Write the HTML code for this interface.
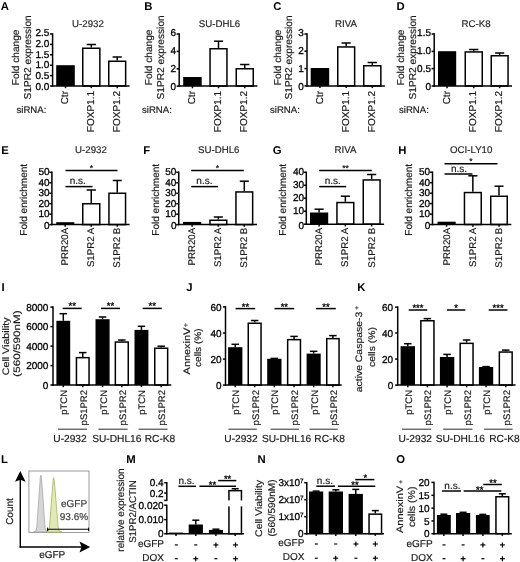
<!DOCTYPE html>
<html>
<head>
<meta charset="utf-8">
<title>Figure</title>
<style>
html, body { margin: 0; padding: 0; background: #fff; }
body { width: 520px; height: 562px; overflow: hidden; }
svg { display: block; font-family: "Liberation Sans", sans-serif; text-rendering: geometricPrecision; }
</style>
</head>
<body>
<svg width="520" height="562" viewBox="0 0 520 562">
<rect x="0" y="0" width="520" height="562" fill="#ffffff"/>
<g opacity="0.999">
<text x="0.8" y="9.5" font-size="11.3" text-anchor="start" font-weight="bold" fill="#000">A</text>
<text x="88" y="27.3" font-size="9.7" text-anchor="middle" font-weight="normal" fill="#262626" stroke="#262626" stroke-width="0.18">U-2932</text>
<rect x="56.2" y="65.2" width="18.6" height="20.8" fill="#000" stroke="none" stroke-width="0"/>
<line x1="91.3" y1="47.5" x2="91.3" y2="44.5" stroke="#000" stroke-width="1.5" stroke-linecap="butt"/>
<line x1="86.65" y1="44.5" x2="95.95" y2="44.5" stroke="#000" stroke-width="1.5" stroke-linecap="butt"/>
<rect x="82.75" y="48.25" width="17.1" height="37.75" fill="#fff" stroke="#000" stroke-width="1.5"/>
<line x1="117.2" y1="60.5" x2="117.2" y2="57" stroke="#000" stroke-width="1.5" stroke-linecap="butt"/>
<line x1="112.6" y1="57" x2="121.8" y2="57" stroke="#000" stroke-width="1.5" stroke-linecap="butt"/>
<rect x="108.75" y="61.25" width="16.9" height="24.75" fill="#fff" stroke="#000" stroke-width="1.5"/>
<line x1="52.6" y1="33.25" x2="52.6" y2="86.75" stroke="#000" stroke-width="1.5" stroke-linecap="butt"/>
<line x1="50" y1="34" x2="52.6" y2="34" stroke="#000" stroke-width="1.5" stroke-linecap="butt"/>
<text x="49.4" y="36.4" font-size="10" text-anchor="end" font-weight="normal" fill="#000" stroke="#000" stroke-width="0.3">2.5</text>
<line x1="50" y1="44.4" x2="52.6" y2="44.4" stroke="#000" stroke-width="1.5" stroke-linecap="butt"/>
<text x="49.4" y="47.04" font-size="10" text-anchor="end" font-weight="normal" fill="#000" stroke="#000" stroke-width="0.3">2.0</text>
<line x1="50" y1="54.8" x2="52.6" y2="54.8" stroke="#000" stroke-width="1.5" stroke-linecap="butt"/>
<text x="49.4" y="57.68" font-size="10" text-anchor="end" font-weight="normal" fill="#000" stroke="#000" stroke-width="0.3">1.5</text>
<line x1="50" y1="65.2" x2="52.6" y2="65.2" stroke="#000" stroke-width="1.5" stroke-linecap="butt"/>
<text x="49.4" y="68.32" font-size="10" text-anchor="end" font-weight="normal" fill="#000" stroke="#000" stroke-width="0.3">1.0</text>
<line x1="50" y1="75.6" x2="52.6" y2="75.6" stroke="#000" stroke-width="1.5" stroke-linecap="butt"/>
<text x="49.4" y="78.96" font-size="10" text-anchor="end" font-weight="normal" fill="#000" stroke="#000" stroke-width="0.3">0.5</text>
<line x1="50" y1="86" x2="52.6" y2="86" stroke="#000" stroke-width="1.5" stroke-linecap="butt"/>
<text x="49.4" y="89.6" font-size="10" text-anchor="end" font-weight="normal" fill="#000" stroke="#000" stroke-width="0.3">0.0</text>
<line x1="51.85" y1="86" x2="129.6" y2="86" stroke="#000" stroke-width="1.5" stroke-linecap="butt"/>
<line x1="65.5" y1="86" x2="65.5" y2="88.2" stroke="#000" stroke-width="1.5" stroke-linecap="butt"/>
<line x1="91.3" y1="86" x2="91.3" y2="88.2" stroke="#000" stroke-width="1.5" stroke-linecap="butt"/>
<line x1="117.2" y1="86" x2="117.2" y2="88.2" stroke="#000" stroke-width="1.5" stroke-linecap="butt"/>
<text x="68.2" y="91" font-size="10" text-anchor="end" font-weight="normal" fill="#1a1a1a" transform="rotate(-90 68.2 91)" stroke="#1a1a1a" stroke-width="0.18">Ctr</text>
<text x="94" y="91" font-size="10" text-anchor="end" font-weight="normal" fill="#1a1a1a" transform="rotate(-90 94 91)" stroke="#1a1a1a" stroke-width="0.18">FOXP1.1</text>
<text x="119.9" y="91" font-size="10" text-anchor="end" font-weight="normal" fill="#1a1a1a" transform="rotate(-90 119.9 91)" stroke="#1a1a1a" stroke-width="0.18">FOXP1.2</text>
<text x="18.6" y="57.4" font-size="10" text-anchor="middle" font-weight="normal" fill="#1a1a1a" transform="rotate(-90 18.6 57.4)" textLength="55.8" lengthAdjust="spacingAndGlyphs" stroke="#1a1a1a" stroke-width="0.18">Fold change</text>
<text x="30.9" y="57.4" font-size="10" text-anchor="middle" font-weight="normal" fill="#1a1a1a" transform="rotate(-90 30.9 57.4)" textLength="84.2" lengthAdjust="spacingAndGlyphs" stroke="#1a1a1a" stroke-width="0.18">S1PR2 expression</text>
<text x="16.5" y="112.8" font-size="9.6" text-anchor="start" font-weight="normal" fill="#1a1a1a" stroke="#1a1a1a" stroke-width="0.18">siRNA:</text>
<text x="144.3" y="9.5" font-size="11.3" text-anchor="start" font-weight="bold" fill="#000">B</text>
<text x="219.5" y="27.3" font-size="9.7" text-anchor="middle" font-weight="normal" fill="#262626" stroke="#262626" stroke-width="0.18">SU-DHL6</text>
<rect x="183.2" y="77" width="18.5" height="9.1" fill="#000" stroke="none" stroke-width="0"/>
<line x1="218.5" y1="48" x2="218.5" y2="41.2" stroke="#000" stroke-width="1.5" stroke-linecap="butt"/>
<line x1="213.9" y1="41.2" x2="223.1" y2="41.2" stroke="#000" stroke-width="1.5" stroke-linecap="butt"/>
<rect x="210.05" y="48.75" width="16.9" height="37.35" fill="#fff" stroke="#000" stroke-width="1.5"/>
<line x1="244.75" y1="68" x2="244.75" y2="64.5" stroke="#000" stroke-width="1.5" stroke-linecap="butt"/>
<line x1="240.12" y1="64.5" x2="249.38" y2="64.5" stroke="#000" stroke-width="1.5" stroke-linecap="butt"/>
<rect x="236.25" y="68.75" width="17" height="17.35" fill="#fff" stroke="#000" stroke-width="1.5"/>
<line x1="179.2" y1="33.25" x2="179.2" y2="86.85" stroke="#000" stroke-width="1.5" stroke-linecap="butt"/>
<line x1="176.6" y1="34" x2="179.2" y2="34" stroke="#000" stroke-width="1.5" stroke-linecap="butt"/>
<text x="176" y="36.4" font-size="10" text-anchor="end" font-weight="normal" fill="#000" stroke="#000" stroke-width="0.3">6</text>
<line x1="176.6" y1="51.4" x2="179.2" y2="51.4" stroke="#000" stroke-width="1.5" stroke-linecap="butt"/>
<text x="176" y="54.2" font-size="10" text-anchor="end" font-weight="normal" fill="#000" stroke="#000" stroke-width="0.3">4</text>
<line x1="176.6" y1="68.8" x2="179.2" y2="68.8" stroke="#000" stroke-width="1.5" stroke-linecap="butt"/>
<text x="176" y="72" font-size="10" text-anchor="end" font-weight="normal" fill="#000" stroke="#000" stroke-width="0.3">2</text>
<line x1="176.6" y1="86.1" x2="179.2" y2="86.1" stroke="#000" stroke-width="1.5" stroke-linecap="butt"/>
<text x="176" y="89.7" font-size="10" text-anchor="end" font-weight="normal" fill="#000" stroke="#000" stroke-width="0.3">0</text>
<line x1="178.45" y1="86.1" x2="257.4" y2="86.1" stroke="#000" stroke-width="1.5" stroke-linecap="butt"/>
<line x1="192.45" y1="86.1" x2="192.45" y2="88.3" stroke="#000" stroke-width="1.5" stroke-linecap="butt"/>
<line x1="218.5" y1="86.1" x2="218.5" y2="88.3" stroke="#000" stroke-width="1.5" stroke-linecap="butt"/>
<line x1="244.75" y1="86.1" x2="244.75" y2="88.3" stroke="#000" stroke-width="1.5" stroke-linecap="butt"/>
<text x="195.15" y="91" font-size="10" text-anchor="end" font-weight="normal" fill="#1a1a1a" transform="rotate(-90 195.15 91)" stroke="#1a1a1a" stroke-width="0.18">Ctr</text>
<text x="221.2" y="91" font-size="10" text-anchor="end" font-weight="normal" fill="#1a1a1a" transform="rotate(-90 221.2 91)" stroke="#1a1a1a" stroke-width="0.18">FOXP1.1</text>
<text x="247.45" y="91" font-size="10" text-anchor="end" font-weight="normal" fill="#1a1a1a" transform="rotate(-90 247.45 91)" stroke="#1a1a1a" stroke-width="0.18">FOXP1.2</text>
<text x="152.3" y="57.4" font-size="10" text-anchor="middle" font-weight="normal" fill="#1a1a1a" transform="rotate(-90 152.3 57.4)" textLength="55.8" lengthAdjust="spacingAndGlyphs" stroke="#1a1a1a" stroke-width="0.18">Fold change</text>
<text x="164" y="57.4" font-size="10" text-anchor="middle" font-weight="normal" fill="#1a1a1a" transform="rotate(-90 164 57.4)" textLength="84.2" lengthAdjust="spacingAndGlyphs" stroke="#1a1a1a" stroke-width="0.18">S1PR2 expression</text>
<text x="142" y="112.8" font-size="9.6" text-anchor="start" font-weight="normal" fill="#1a1a1a" stroke="#1a1a1a" stroke-width="0.18">siRNA:</text>
<text x="273.3" y="9.5" font-size="11.3" text-anchor="start" font-weight="bold" fill="#000">C</text>
<text x="346" y="27.3" font-size="9.7" text-anchor="middle" font-weight="normal" fill="#262626" stroke="#262626" stroke-width="0.18">RIVA</text>
<rect x="310.7" y="68" width="18.5" height="17.9" fill="#000" stroke="none" stroke-width="0"/>
<line x1="346.2" y1="46.2" x2="346.2" y2="43" stroke="#000" stroke-width="1.5" stroke-linecap="butt"/>
<line x1="341.6" y1="43" x2="350.8" y2="43" stroke="#000" stroke-width="1.5" stroke-linecap="butt"/>
<rect x="337.75" y="46.95" width="16.9" height="38.95" fill="#fff" stroke="#000" stroke-width="1.5"/>
<line x1="372.3" y1="65" x2="372.3" y2="62.5" stroke="#000" stroke-width="1.5" stroke-linecap="butt"/>
<line x1="367.65" y1="62.5" x2="376.95" y2="62.5" stroke="#000" stroke-width="1.5" stroke-linecap="butt"/>
<rect x="363.75" y="65.75" width="17.1" height="20.15" fill="#fff" stroke="#000" stroke-width="1.5"/>
<line x1="307" y1="33.25" x2="307" y2="86.65" stroke="#000" stroke-width="1.5" stroke-linecap="butt"/>
<line x1="304.4" y1="34" x2="307" y2="34" stroke="#000" stroke-width="1.5" stroke-linecap="butt"/>
<text x="303.8" y="36.4" font-size="10" text-anchor="end" font-weight="normal" fill="#000" stroke="#000" stroke-width="0.3">3</text>
<line x1="304.4" y1="51.2" x2="307" y2="51.2" stroke="#000" stroke-width="1.5" stroke-linecap="butt"/>
<text x="303.8" y="54" font-size="10" text-anchor="end" font-weight="normal" fill="#000" stroke="#000" stroke-width="0.3">2</text>
<line x1="304.4" y1="68.6" x2="307" y2="68.6" stroke="#000" stroke-width="1.5" stroke-linecap="butt"/>
<text x="303.8" y="71.8" font-size="10" text-anchor="end" font-weight="normal" fill="#000" stroke="#000" stroke-width="0.3">1</text>
<line x1="304.4" y1="85.9" x2="307" y2="85.9" stroke="#000" stroke-width="1.5" stroke-linecap="butt"/>
<text x="303.8" y="89.5" font-size="10" text-anchor="end" font-weight="normal" fill="#000" stroke="#000" stroke-width="0.3">0</text>
<line x1="306.25" y1="85.9" x2="384.9" y2="85.9" stroke="#000" stroke-width="1.5" stroke-linecap="butt"/>
<line x1="319.95" y1="85.9" x2="319.95" y2="88.1" stroke="#000" stroke-width="1.5" stroke-linecap="butt"/>
<line x1="346.2" y1="85.9" x2="346.2" y2="88.1" stroke="#000" stroke-width="1.5" stroke-linecap="butt"/>
<line x1="372.3" y1="85.9" x2="372.3" y2="88.1" stroke="#000" stroke-width="1.5" stroke-linecap="butt"/>
<text x="322.65" y="91" font-size="10" text-anchor="end" font-weight="normal" fill="#1a1a1a" transform="rotate(-90 322.65 91)" stroke="#1a1a1a" stroke-width="0.18">Ctr</text>
<text x="348.9" y="91" font-size="10" text-anchor="end" font-weight="normal" fill="#1a1a1a" transform="rotate(-90 348.9 91)" stroke="#1a1a1a" stroke-width="0.18">FOXP1.1</text>
<text x="375" y="91" font-size="10" text-anchor="end" font-weight="normal" fill="#1a1a1a" transform="rotate(-90 375 91)" stroke="#1a1a1a" stroke-width="0.18">FOXP1.2</text>
<text x="281.1" y="57.4" font-size="10" text-anchor="middle" font-weight="normal" fill="#1a1a1a" transform="rotate(-90 281.1 57.4)" textLength="55.8" lengthAdjust="spacingAndGlyphs" stroke="#1a1a1a" stroke-width="0.18">Fold change</text>
<text x="292.3" y="57.4" font-size="10" text-anchor="middle" font-weight="normal" fill="#1a1a1a" transform="rotate(-90 292.3 57.4)" textLength="84.2" lengthAdjust="spacingAndGlyphs" stroke="#1a1a1a" stroke-width="0.18">S1PR2 expression</text>
<text x="270" y="112.8" font-size="9.6" text-anchor="start" font-weight="normal" fill="#1a1a1a" stroke="#1a1a1a" stroke-width="0.18">siRNA:</text>
<text x="396.5" y="9.5" font-size="11.3" text-anchor="start" font-weight="bold" fill="#000">D</text>
<text x="476" y="27.3" font-size="9.7" text-anchor="middle" font-weight="normal" fill="#262626" stroke="#262626" stroke-width="0.18">RC-K8</text>
<rect x="438" y="51.2" width="18.2" height="34.8" fill="#000" stroke="none" stroke-width="0"/>
<line x1="473.75" y1="51.2" x2="473.75" y2="49.5" stroke="#000" stroke-width="1.5" stroke-linecap="butt"/>
<line x1="469.12" y1="49.5" x2="478.38" y2="49.5" stroke="#000" stroke-width="1.5" stroke-linecap="butt"/>
<rect x="465.25" y="51.95" width="17" height="34.05" fill="#fff" stroke="#000" stroke-width="1.5"/>
<line x1="499.65" y1="55" x2="499.65" y2="53" stroke="#000" stroke-width="1.5" stroke-linecap="butt"/>
<line x1="495.07" y1="53" x2="504.22" y2="53" stroke="#000" stroke-width="1.5" stroke-linecap="butt"/>
<rect x="491.25" y="55.75" width="16.8" height="30.25" fill="#fff" stroke="#000" stroke-width="1.5"/>
<line x1="434.2" y1="33.25" x2="434.2" y2="86.75" stroke="#000" stroke-width="1.5" stroke-linecap="butt"/>
<line x1="431.6" y1="34" x2="434.2" y2="34" stroke="#000" stroke-width="1.5" stroke-linecap="butt"/>
<text x="431" y="36.4" font-size="10" text-anchor="end" font-weight="normal" fill="#000" stroke="#000" stroke-width="0.3">1.5</text>
<line x1="431.6" y1="51.4" x2="434.2" y2="51.4" stroke="#000" stroke-width="1.5" stroke-linecap="butt"/>
<text x="431" y="54.2" font-size="10" text-anchor="end" font-weight="normal" fill="#000" stroke="#000" stroke-width="0.3">1.0</text>
<line x1="431.6" y1="68.6" x2="434.2" y2="68.6" stroke="#000" stroke-width="1.5" stroke-linecap="butt"/>
<text x="431" y="71.8" font-size="10" text-anchor="end" font-weight="normal" fill="#000" stroke="#000" stroke-width="0.3">0.5</text>
<line x1="431.6" y1="86" x2="434.2" y2="86" stroke="#000" stroke-width="1.5" stroke-linecap="butt"/>
<text x="431" y="89.6" font-size="10" text-anchor="end" font-weight="normal" fill="#000" stroke="#000" stroke-width="0.3">0</text>
<line x1="433.45" y1="86" x2="512" y2="86" stroke="#000" stroke-width="1.5" stroke-linecap="butt"/>
<line x1="447.1" y1="86" x2="447.1" y2="88.2" stroke="#000" stroke-width="1.5" stroke-linecap="butt"/>
<line x1="473.75" y1="86" x2="473.75" y2="88.2" stroke="#000" stroke-width="1.5" stroke-linecap="butt"/>
<line x1="499.65" y1="86" x2="499.65" y2="88.2" stroke="#000" stroke-width="1.5" stroke-linecap="butt"/>
<text x="449.8" y="91" font-size="10" text-anchor="end" font-weight="normal" fill="#1a1a1a" transform="rotate(-90 449.8 91)" stroke="#1a1a1a" stroke-width="0.18">Ctr</text>
<text x="476.45" y="91" font-size="10" text-anchor="end" font-weight="normal" fill="#1a1a1a" transform="rotate(-90 476.45 91)" stroke="#1a1a1a" stroke-width="0.18">FOXP1.1</text>
<text x="502.35" y="91" font-size="10" text-anchor="end" font-weight="normal" fill="#1a1a1a" transform="rotate(-90 502.35 91)" stroke="#1a1a1a" stroke-width="0.18">FOXP1.2</text>
<text x="404" y="57.4" font-size="10" text-anchor="middle" font-weight="normal" fill="#1a1a1a" transform="rotate(-90 404 57.4)" textLength="55.8" lengthAdjust="spacingAndGlyphs" stroke="#1a1a1a" stroke-width="0.18">Fold change</text>
<text x="415.6" y="57.4" font-size="10" text-anchor="middle" font-weight="normal" fill="#1a1a1a" transform="rotate(-90 415.6 57.4)" textLength="84.2" lengthAdjust="spacingAndGlyphs" stroke="#1a1a1a" stroke-width="0.18">S1PR2 expression</text>
<text x="399" y="112.8" font-size="9.6" text-anchor="start" font-weight="normal" fill="#1a1a1a" stroke="#1a1a1a" stroke-width="0.18">siRNA:</text>
<text x="1.3" y="153.5" font-size="11.3" text-anchor="start" font-weight="bold" fill="#000">E</text>
<text x="91" y="152.8" font-size="9.7" text-anchor="middle" font-weight="normal" fill="#262626" stroke="#262626" stroke-width="0.18">U-2932</text>
<rect x="56.2" y="222.2" width="18.1" height="2.4" fill="#000" stroke="none" stroke-width="0"/>
<line x1="91.25" y1="203" x2="91.25" y2="190" stroke="#000" stroke-width="1.5" stroke-linecap="butt"/>
<line x1="86.62" y1="190" x2="95.88" y2="190" stroke="#000" stroke-width="1.5" stroke-linecap="butt"/>
<rect x="82.75" y="203.75" width="17" height="20.85" fill="#fff" stroke="#000" stroke-width="1.5"/>
<line x1="117.25" y1="192.5" x2="117.25" y2="180.5" stroke="#000" stroke-width="1.5" stroke-linecap="butt"/>
<line x1="112.72" y1="180.5" x2="121.78" y2="180.5" stroke="#000" stroke-width="1.5" stroke-linecap="butt"/>
<rect x="108.95" y="193.25" width="16.6" height="31.35" fill="#fff" stroke="#000" stroke-width="1.5"/>
<line x1="51.9" y1="171.55" x2="51.9" y2="225.35" stroke="#000" stroke-width="1.5" stroke-linecap="butt"/>
<line x1="49.3" y1="172.3" x2="51.9" y2="172.3" stroke="#000" stroke-width="1.5" stroke-linecap="butt"/>
<text x="49.6" y="175.1" font-size="10" text-anchor="end" font-weight="normal" fill="#000" stroke="#000" stroke-width="0.3">50</text>
<line x1="49.3" y1="182.8" x2="51.9" y2="182.8" stroke="#000" stroke-width="1.5" stroke-linecap="butt"/>
<text x="49.6" y="185.7" font-size="10" text-anchor="end" font-weight="normal" fill="#000" stroke="#000" stroke-width="0.3">40</text>
<line x1="49.3" y1="193.3" x2="51.9" y2="193.3" stroke="#000" stroke-width="1.5" stroke-linecap="butt"/>
<text x="49.6" y="196.3" font-size="10" text-anchor="end" font-weight="normal" fill="#000" stroke="#000" stroke-width="0.3">30</text>
<line x1="49.3" y1="203.7" x2="51.9" y2="203.7" stroke="#000" stroke-width="1.5" stroke-linecap="butt"/>
<text x="49.6" y="206.8" font-size="10" text-anchor="end" font-weight="normal" fill="#000" stroke="#000" stroke-width="0.3">20</text>
<line x1="49.3" y1="214.2" x2="51.9" y2="214.2" stroke="#000" stroke-width="1.5" stroke-linecap="butt"/>
<text x="49.6" y="217.4" font-size="10" text-anchor="end" font-weight="normal" fill="#000" stroke="#000" stroke-width="0.3">10</text>
<line x1="49.3" y1="224.6" x2="51.9" y2="224.6" stroke="#000" stroke-width="1.5" stroke-linecap="butt"/>
<text x="49.6" y="229.05" font-size="10" text-anchor="end" font-weight="normal" fill="#000" stroke="#000" stroke-width="0.3">0</text>
<line x1="51.15" y1="224.6" x2="129.6" y2="224.6" stroke="#000" stroke-width="1.5" stroke-linecap="butt"/>
<line x1="65.25" y1="224.6" x2="65.25" y2="226.8" stroke="#000" stroke-width="1.5" stroke-linecap="butt"/>
<line x1="91.25" y1="224.6" x2="91.25" y2="226.8" stroke="#000" stroke-width="1.5" stroke-linecap="butt"/>
<line x1="117.25" y1="224.6" x2="117.25" y2="226.8" stroke="#000" stroke-width="1.5" stroke-linecap="butt"/>
<text x="68.34" y="227.8" font-size="9.7" text-anchor="end" font-weight="normal" fill="#1a1a1a" transform="rotate(-90 68.34 227.8)" stroke="#1a1a1a" stroke-width="0.18">PRR20A</text>
<text x="94.34" y="227.8" font-size="9.7" text-anchor="end" font-weight="normal" fill="#1a1a1a" transform="rotate(-90 94.34 227.8)" stroke="#1a1a1a" stroke-width="0.18">S1PR2 A</text>
<text x="120.34" y="227.8" font-size="9.7" text-anchor="end" font-weight="normal" fill="#1a1a1a" transform="rotate(-90 120.34 227.8)" stroke="#1a1a1a" stroke-width="0.18">S1PR2 B</text>
<text x="26.9" y="199.8" font-size="10" text-anchor="middle" font-weight="normal" fill="#1a1a1a" transform="rotate(-90 26.9 199.8)" stroke="#1a1a1a" stroke-width="0.18">Fold enrichment</text>
<line x1="65.5" y1="170.5" x2="117.5" y2="170.5" stroke="#000" stroke-width="1.5" stroke-linecap="butt"/>
<text x="91.5" y="171.06" font-size="8.5" text-anchor="middle" font-weight="normal" fill="#000" stroke="#000" stroke-width="0.18">*</text>
<line x1="65.5" y1="186.6" x2="92.5" y2="186.6" stroke="#000" stroke-width="1.5" stroke-linecap="butt"/>
<text x="77.8" y="184.4" font-size="10" text-anchor="middle" font-weight="normal" fill="#1a1a1a" stroke="#1a1a1a" stroke-width="0.18">n.s.</text>
<text x="143.3" y="153.5" font-size="11.3" text-anchor="start" font-weight="bold" fill="#000">F</text>
<text x="218.7" y="152.8" font-size="9.7" text-anchor="middle" font-weight="normal" fill="#262626" stroke="#262626" stroke-width="0.18">SU-DHL6</text>
<rect x="183" y="221.9" width="18.2" height="2.7" fill="#000" stroke="none" stroke-width="0"/>
<line x1="218.35" y1="219.5" x2="218.35" y2="217" stroke="#000" stroke-width="1.5" stroke-linecap="butt"/>
<line x1="213.77" y1="217" x2="222.93" y2="217" stroke="#000" stroke-width="1.5" stroke-linecap="butt"/>
<rect x="209.95" y="220.25" width="16.8" height="4.35" fill="#fff" stroke="#000" stroke-width="1.5"/>
<line x1="244.3" y1="191.2" x2="244.3" y2="181.2" stroke="#000" stroke-width="1.5" stroke-linecap="butt"/>
<line x1="239.75" y1="181.2" x2="248.85" y2="181.2" stroke="#000" stroke-width="1.5" stroke-linecap="butt"/>
<rect x="235.95" y="191.95" width="16.7" height="32.65" fill="#fff" stroke="#000" stroke-width="1.5"/>
<line x1="178.75" y1="171.55" x2="178.75" y2="225.35" stroke="#000" stroke-width="1.5" stroke-linecap="butt"/>
<line x1="176.15" y1="172.3" x2="178.75" y2="172.3" stroke="#000" stroke-width="1.5" stroke-linecap="butt"/>
<text x="176.45" y="175.1" font-size="10" text-anchor="end" font-weight="normal" fill="#000" stroke="#000" stroke-width="0.3">50</text>
<line x1="176.15" y1="182.8" x2="178.75" y2="182.8" stroke="#000" stroke-width="1.5" stroke-linecap="butt"/>
<text x="176.45" y="185.7" font-size="10" text-anchor="end" font-weight="normal" fill="#000" stroke="#000" stroke-width="0.3">40</text>
<line x1="176.15" y1="193.3" x2="178.75" y2="193.3" stroke="#000" stroke-width="1.5" stroke-linecap="butt"/>
<text x="176.45" y="196.3" font-size="10" text-anchor="end" font-weight="normal" fill="#000" stroke="#000" stroke-width="0.3">30</text>
<line x1="176.15" y1="203.7" x2="178.75" y2="203.7" stroke="#000" stroke-width="1.5" stroke-linecap="butt"/>
<text x="176.45" y="206.8" font-size="10" text-anchor="end" font-weight="normal" fill="#000" stroke="#000" stroke-width="0.3">20</text>
<line x1="176.15" y1="214.2" x2="178.75" y2="214.2" stroke="#000" stroke-width="1.5" stroke-linecap="butt"/>
<text x="176.45" y="217.4" font-size="10" text-anchor="end" font-weight="normal" fill="#000" stroke="#000" stroke-width="0.3">10</text>
<line x1="176.15" y1="224.6" x2="178.75" y2="224.6" stroke="#000" stroke-width="1.5" stroke-linecap="butt"/>
<text x="176.45" y="229.05" font-size="10" text-anchor="end" font-weight="normal" fill="#000" stroke="#000" stroke-width="0.3">0</text>
<line x1="178" y1="224.6" x2="257" y2="224.6" stroke="#000" stroke-width="1.5" stroke-linecap="butt"/>
<line x1="192.1" y1="224.6" x2="192.1" y2="226.8" stroke="#000" stroke-width="1.5" stroke-linecap="butt"/>
<line x1="218.35" y1="224.6" x2="218.35" y2="226.8" stroke="#000" stroke-width="1.5" stroke-linecap="butt"/>
<line x1="244.3" y1="224.6" x2="244.3" y2="226.8" stroke="#000" stroke-width="1.5" stroke-linecap="butt"/>
<text x="195.19" y="227.8" font-size="9.7" text-anchor="end" font-weight="normal" fill="#1a1a1a" transform="rotate(-90 195.19 227.8)" stroke="#1a1a1a" stroke-width="0.18">PRR20A</text>
<text x="221.44" y="227.8" font-size="9.7" text-anchor="end" font-weight="normal" fill="#1a1a1a" transform="rotate(-90 221.44 227.8)" stroke="#1a1a1a" stroke-width="0.18">S1PR2 A</text>
<text x="247.39" y="227.8" font-size="9.7" text-anchor="end" font-weight="normal" fill="#1a1a1a" transform="rotate(-90 247.39 227.8)" stroke="#1a1a1a" stroke-width="0.18">S1PR2 B</text>
<text x="159.2" y="199.8" font-size="10" text-anchor="middle" font-weight="normal" fill="#1a1a1a" transform="rotate(-90 159.2 199.8)" stroke="#1a1a1a" stroke-width="0.18">Fold enrichment</text>
<line x1="191.2" y1="170.5" x2="243.8" y2="170.5" stroke="#000" stroke-width="1.5" stroke-linecap="butt"/>
<text x="217.5" y="171.06" font-size="8.5" text-anchor="middle" font-weight="normal" fill="#000" stroke="#000" stroke-width="0.18">*</text>
<line x1="191.2" y1="186.6" x2="218" y2="186.6" stroke="#000" stroke-width="1.5" stroke-linecap="butt"/>
<text x="204.4" y="184.4" font-size="10" text-anchor="middle" font-weight="normal" fill="#1a1a1a" stroke="#1a1a1a" stroke-width="0.18">n.s.</text>
<text x="272.8" y="153.5" font-size="11.3" text-anchor="start" font-weight="bold" fill="#000">G</text>
<text x="345.5" y="152.8" font-size="9.7" text-anchor="middle" font-weight="normal" fill="#262626" stroke="#262626" stroke-width="0.18">RIVA</text>
<line x1="319.1" y1="212.5" x2="319.1" y2="209.2" stroke="#000" stroke-width="1.5" stroke-linecap="butt"/>
<line x1="314.55" y1="209.2" x2="323.65" y2="209.2" stroke="#000" stroke-width="1.5" stroke-linecap="butt"/>
<rect x="310" y="212.5" width="18.2" height="11.7" fill="#000" stroke="none" stroke-width="0"/>
<line x1="345.35" y1="201.8" x2="345.35" y2="196.2" stroke="#000" stroke-width="1.5" stroke-linecap="butt"/>
<line x1="340.78" y1="196.2" x2="349.93" y2="196.2" stroke="#000" stroke-width="1.5" stroke-linecap="butt"/>
<rect x="336.95" y="202.55" width="16.8" height="21.65" fill="#fff" stroke="#000" stroke-width="1.5"/>
<line x1="371.65" y1="179.2" x2="371.65" y2="174.5" stroke="#000" stroke-width="1.5" stroke-linecap="butt"/>
<line x1="367.07" y1="174.5" x2="376.22" y2="174.5" stroke="#000" stroke-width="1.5" stroke-linecap="butt"/>
<rect x="363.25" y="179.95" width="16.8" height="44.25" fill="#fff" stroke="#000" stroke-width="1.5"/>
<line x1="306.3" y1="171.55" x2="306.3" y2="224.95" stroke="#000" stroke-width="1.5" stroke-linecap="butt"/>
<line x1="303.7" y1="172.3" x2="306.3" y2="172.3" stroke="#000" stroke-width="1.5" stroke-linecap="butt"/>
<text x="304" y="175.1" font-size="10" text-anchor="end" font-weight="normal" fill="#000" stroke="#000" stroke-width="0.3">40</text>
<line x1="303.7" y1="185.3" x2="306.3" y2="185.3" stroke="#000" stroke-width="1.5" stroke-linecap="butt"/>
<text x="304" y="188.22" font-size="10" text-anchor="end" font-weight="normal" fill="#000" stroke="#000" stroke-width="0.3">30</text>
<line x1="303.7" y1="198.2" x2="306.3" y2="198.2" stroke="#000" stroke-width="1.5" stroke-linecap="butt"/>
<text x="304" y="201.25" font-size="10" text-anchor="end" font-weight="normal" fill="#000" stroke="#000" stroke-width="0.3">20</text>
<line x1="303.7" y1="211.2" x2="306.3" y2="211.2" stroke="#000" stroke-width="1.5" stroke-linecap="butt"/>
<text x="304" y="214.37" font-size="10" text-anchor="end" font-weight="normal" fill="#000" stroke="#000" stroke-width="0.3">10</text>
<line x1="303.7" y1="224.2" x2="306.3" y2="224.2" stroke="#000" stroke-width="1.5" stroke-linecap="butt"/>
<text x="304" y="228.65" font-size="10" text-anchor="end" font-weight="normal" fill="#000" stroke="#000" stroke-width="0.3">0</text>
<line x1="305.55" y1="224.2" x2="384.1" y2="224.2" stroke="#000" stroke-width="1.5" stroke-linecap="butt"/>
<line x1="319.1" y1="224.2" x2="319.1" y2="226.4" stroke="#000" stroke-width="1.5" stroke-linecap="butt"/>
<line x1="345.35" y1="224.2" x2="345.35" y2="226.4" stroke="#000" stroke-width="1.5" stroke-linecap="butt"/>
<line x1="371.65" y1="224.2" x2="371.65" y2="226.4" stroke="#000" stroke-width="1.5" stroke-linecap="butt"/>
<text x="322.19" y="227.8" font-size="9.7" text-anchor="end" font-weight="normal" fill="#1a1a1a" transform="rotate(-90 322.19 227.8)" stroke="#1a1a1a" stroke-width="0.18">PRR20A</text>
<text x="348.44" y="227.8" font-size="9.7" text-anchor="end" font-weight="normal" fill="#1a1a1a" transform="rotate(-90 348.44 227.8)" stroke="#1a1a1a" stroke-width="0.18">S1PR2 A</text>
<text x="374.74" y="227.8" font-size="9.7" text-anchor="end" font-weight="normal" fill="#1a1a1a" transform="rotate(-90 374.74 227.8)" stroke="#1a1a1a" stroke-width="0.18">S1PR2 B</text>
<text x="285.8" y="199.8" font-size="10" text-anchor="middle" font-weight="normal" fill="#1a1a1a" transform="rotate(-90 285.8 199.8)" stroke="#1a1a1a" stroke-width="0.18">Fold enrichment</text>
<line x1="319.2" y1="170.5" x2="371.8" y2="170.5" stroke="#000" stroke-width="1.5" stroke-linecap="butt"/>
<text x="345.5" y="171.06" font-size="8.5" text-anchor="middle" font-weight="normal" fill="#000" stroke="#000" stroke-width="0.18">**</text>
<line x1="319.2" y1="186.6" x2="346.2" y2="186.6" stroke="#000" stroke-width="1.5" stroke-linecap="butt"/>
<text x="332.7" y="184.4" font-size="10" text-anchor="middle" font-weight="normal" fill="#1a1a1a" stroke="#1a1a1a" stroke-width="0.18">n.s.</text>
<text x="398.3" y="153.5" font-size="11.3" text-anchor="start" font-weight="bold" fill="#000">H</text>
<text x="471.2" y="152.8" font-size="9.7" text-anchor="middle" font-weight="normal" fill="#262626" stroke="#262626" stroke-width="0.18">OCI-LY10</text>
<rect x="437.5" y="221.7" width="18.2" height="2.8" fill="#000" stroke="none" stroke-width="0"/>
<line x1="472.85" y1="191.8" x2="472.85" y2="175.8" stroke="#000" stroke-width="1.5" stroke-linecap="butt"/>
<line x1="468.28" y1="175.8" x2="477.43" y2="175.8" stroke="#000" stroke-width="1.5" stroke-linecap="butt"/>
<rect x="464.45" y="192.55" width="16.8" height="31.95" fill="#fff" stroke="#000" stroke-width="1.5"/>
<line x1="499" y1="195.5" x2="499" y2="186.2" stroke="#000" stroke-width="1.5" stroke-linecap="butt"/>
<line x1="494.5" y1="186.2" x2="503.5" y2="186.2" stroke="#000" stroke-width="1.5" stroke-linecap="butt"/>
<rect x="490.75" y="196.25" width="16.5" height="28.25" fill="#fff" stroke="#000" stroke-width="1.5"/>
<line x1="432.5" y1="171.45" x2="432.5" y2="225.25" stroke="#000" stroke-width="1.5" stroke-linecap="butt"/>
<line x1="429.9" y1="172.2" x2="432.5" y2="172.2" stroke="#000" stroke-width="1.5" stroke-linecap="butt"/>
<text x="430.2" y="175" font-size="10" text-anchor="end" font-weight="normal" fill="#000" stroke="#000" stroke-width="0.3">50</text>
<line x1="429.9" y1="182.7" x2="432.5" y2="182.7" stroke="#000" stroke-width="1.5" stroke-linecap="butt"/>
<text x="430.2" y="185.6" font-size="10" text-anchor="end" font-weight="normal" fill="#000" stroke="#000" stroke-width="0.3">40</text>
<line x1="429.9" y1="193.2" x2="432.5" y2="193.2" stroke="#000" stroke-width="1.5" stroke-linecap="butt"/>
<text x="430.2" y="196.2" font-size="10" text-anchor="end" font-weight="normal" fill="#000" stroke="#000" stroke-width="0.3">30</text>
<line x1="429.9" y1="203.6" x2="432.5" y2="203.6" stroke="#000" stroke-width="1.5" stroke-linecap="butt"/>
<text x="430.2" y="206.7" font-size="10" text-anchor="end" font-weight="normal" fill="#000" stroke="#000" stroke-width="0.3">20</text>
<line x1="429.9" y1="214.1" x2="432.5" y2="214.1" stroke="#000" stroke-width="1.5" stroke-linecap="butt"/>
<text x="430.2" y="217.3" font-size="10" text-anchor="end" font-weight="normal" fill="#000" stroke="#000" stroke-width="0.3">10</text>
<line x1="429.9" y1="224.5" x2="432.5" y2="224.5" stroke="#000" stroke-width="1.5" stroke-linecap="butt"/>
<text x="430.2" y="228.95" font-size="10" text-anchor="end" font-weight="normal" fill="#000" stroke="#000" stroke-width="0.3">0</text>
<line x1="431.75" y1="224.5" x2="511.3" y2="224.5" stroke="#000" stroke-width="1.5" stroke-linecap="butt"/>
<line x1="446.6" y1="224.5" x2="446.6" y2="226.7" stroke="#000" stroke-width="1.5" stroke-linecap="butt"/>
<line x1="472.85" y1="224.5" x2="472.85" y2="226.7" stroke="#000" stroke-width="1.5" stroke-linecap="butt"/>
<line x1="499" y1="224.5" x2="499" y2="226.7" stroke="#000" stroke-width="1.5" stroke-linecap="butt"/>
<text x="449.69" y="227.8" font-size="9.7" text-anchor="end" font-weight="normal" fill="#1a1a1a" transform="rotate(-90 449.69 227.8)" stroke="#1a1a1a" stroke-width="0.18">PRR20A</text>
<text x="475.94" y="227.8" font-size="9.7" text-anchor="end" font-weight="normal" fill="#1a1a1a" transform="rotate(-90 475.94 227.8)" stroke="#1a1a1a" stroke-width="0.18">S1PR2 A</text>
<text x="502.09" y="227.8" font-size="9.7" text-anchor="end" font-weight="normal" fill="#1a1a1a" transform="rotate(-90 502.09 227.8)" stroke="#1a1a1a" stroke-width="0.18">S1PR2 B</text>
<text x="412.4" y="199.8" font-size="10" text-anchor="middle" font-weight="normal" fill="#1a1a1a" transform="rotate(-90 412.4 199.8)" stroke="#1a1a1a" stroke-width="0.18">Fold enrichment</text>
<line x1="444.5" y1="163.8" x2="497.5" y2="163.8" stroke="#000" stroke-width="1.5" stroke-linecap="butt"/>
<text x="471" y="164.36" font-size="8.5" text-anchor="middle" font-weight="normal" fill="#000" stroke="#000" stroke-width="0.18">*</text>
<line x1="444.5" y1="174" x2="472.5" y2="174" stroke="#000" stroke-width="1.5" stroke-linecap="butt"/>
<text x="459" y="171.8" font-size="10" text-anchor="middle" font-weight="normal" fill="#1a1a1a" stroke="#1a1a1a" stroke-width="0.18">n.s.</text>
<text x="1.4" y="291.3" font-size="11.3" text-anchor="start" font-weight="bold" fill="#000">I</text>
<line x1="63.3" y1="320.8" x2="63.3" y2="313.7" stroke="#000" stroke-width="1.5" stroke-linecap="butt"/>
<line x1="59.55" y1="313.7" x2="67.05" y2="313.7" stroke="#000" stroke-width="1.5" stroke-linecap="butt"/>
<rect x="56.4" y="320.8" width="13.8" height="64.2" fill="#000" stroke="none" stroke-width="0"/>
<line x1="82.75" y1="356.9" x2="82.75" y2="352.6" stroke="#000" stroke-width="1.5" stroke-linecap="butt"/>
<line x1="79" y1="352.6" x2="86.5" y2="352.6" stroke="#000" stroke-width="1.5" stroke-linecap="butt"/>
<rect x="76.45" y="357.65" width="12.6" height="27.35" fill="#fff" stroke="#000" stroke-width="1.5"/>
<line x1="102.55" y1="319.2" x2="102.55" y2="317" stroke="#000" stroke-width="1.5" stroke-linecap="butt"/>
<line x1="98.8" y1="317" x2="106.3" y2="317" stroke="#000" stroke-width="1.5" stroke-linecap="butt"/>
<rect x="95.5" y="319.2" width="14.1" height="65.8" fill="#000" stroke="none" stroke-width="0"/>
<line x1="121.8" y1="341.3" x2="121.8" y2="340" stroke="#000" stroke-width="1.5" stroke-linecap="butt"/>
<line x1="118.05" y1="340" x2="125.55" y2="340" stroke="#000" stroke-width="1.5" stroke-linecap="butt"/>
<rect x="115.35" y="342.05" width="12.9" height="42.95" fill="#fff" stroke="#000" stroke-width="1.5"/>
<line x1="141.45" y1="329.9" x2="141.45" y2="326.3" stroke="#000" stroke-width="1.5" stroke-linecap="butt"/>
<line x1="137.7" y1="326.3" x2="145.2" y2="326.3" stroke="#000" stroke-width="1.5" stroke-linecap="butt"/>
<rect x="134.5" y="329.9" width="13.9" height="55.1" fill="#000" stroke="none" stroke-width="0"/>
<line x1="161.2" y1="347.5" x2="161.2" y2="346.2" stroke="#000" stroke-width="1.5" stroke-linecap="butt"/>
<line x1="157.45" y1="346.2" x2="164.95" y2="346.2" stroke="#000" stroke-width="1.5" stroke-linecap="butt"/>
<rect x="154.75" y="348.25" width="12.9" height="36.75" fill="#fff" stroke="#000" stroke-width="1.5"/>
<line x1="53" y1="306.35" x2="53" y2="385.75" stroke="#000" stroke-width="1.5" stroke-linecap="butt"/>
<line x1="50.4" y1="307.1" x2="53" y2="307.1" stroke="#000" stroke-width="1.5" stroke-linecap="butt"/>
<text x="48.4" y="310.7" font-size="10" text-anchor="end" font-weight="normal" fill="#000" stroke="#000" stroke-width="0.3">8000</text>
<line x1="50.4" y1="326.6" x2="53" y2="326.6" stroke="#000" stroke-width="1.5" stroke-linecap="butt"/>
<text x="48.4" y="330.2" font-size="10" text-anchor="end" font-weight="normal" fill="#000" stroke="#000" stroke-width="0.3">6000</text>
<line x1="50.4" y1="346.1" x2="53" y2="346.1" stroke="#000" stroke-width="1.5" stroke-linecap="butt"/>
<text x="48.4" y="349.7" font-size="10" text-anchor="end" font-weight="normal" fill="#000" stroke="#000" stroke-width="0.3">4000</text>
<line x1="50.4" y1="365.6" x2="53" y2="365.6" stroke="#000" stroke-width="1.5" stroke-linecap="butt"/>
<text x="48.4" y="369.2" font-size="10" text-anchor="end" font-weight="normal" fill="#000" stroke="#000" stroke-width="0.3">2000</text>
<line x1="50.4" y1="385" x2="53" y2="385" stroke="#000" stroke-width="1.5" stroke-linecap="butt"/>
<text x="48.4" y="388.6" font-size="10" text-anchor="end" font-weight="normal" fill="#000" stroke="#000" stroke-width="0.3">0</text>
<line x1="52.25" y1="385" x2="171.3" y2="385" stroke="#000" stroke-width="1.5" stroke-linecap="butt"/>
<line x1="63.3" y1="385" x2="63.3" y2="387.2" stroke="#000" stroke-width="1.5" stroke-linecap="butt"/>
<line x1="82.75" y1="385" x2="82.75" y2="387.2" stroke="#000" stroke-width="1.5" stroke-linecap="butt"/>
<line x1="102.55" y1="385" x2="102.55" y2="387.2" stroke="#000" stroke-width="1.5" stroke-linecap="butt"/>
<line x1="121.8" y1="385" x2="121.8" y2="387.2" stroke="#000" stroke-width="1.5" stroke-linecap="butt"/>
<line x1="141.45" y1="385" x2="141.45" y2="387.2" stroke="#000" stroke-width="1.5" stroke-linecap="butt"/>
<line x1="161.2" y1="385" x2="161.2" y2="387.2" stroke="#000" stroke-width="1.5" stroke-linecap="butt"/>
<text x="67.3" y="390" font-size="9.5" text-anchor="end" font-weight="normal" fill="#1a1a1a" transform="rotate(-90 67.3 390)" stroke="#1a1a1a" stroke-width="0.18">pTCN</text>
<text x="86.75" y="390" font-size="9.5" text-anchor="end" font-weight="normal" fill="#1a1a1a" transform="rotate(-90 86.75 390)" stroke="#1a1a1a" stroke-width="0.18">pS1PR2</text>
<text x="106.55" y="390" font-size="9.5" text-anchor="end" font-weight="normal" fill="#1a1a1a" transform="rotate(-90 106.55 390)" stroke="#1a1a1a" stroke-width="0.18">pTCN</text>
<text x="125.8" y="390" font-size="9.5" text-anchor="end" font-weight="normal" fill="#1a1a1a" transform="rotate(-90 125.8 390)" stroke="#1a1a1a" stroke-width="0.18">pS1PR2</text>
<text x="145.45" y="390" font-size="9.5" text-anchor="end" font-weight="normal" fill="#1a1a1a" transform="rotate(-90 145.45 390)" stroke="#1a1a1a" stroke-width="0.18">pTCN</text>
<text x="165.2" y="390" font-size="9.5" text-anchor="end" font-weight="normal" fill="#1a1a1a" transform="rotate(-90 165.2 390)" stroke="#1a1a1a" stroke-width="0.18">pS1PR2</text>
<text x="8.98" y="346.3" font-size="9.4" text-anchor="middle" font-weight="normal" fill="#1a1a1a" transform="rotate(-90 8.98 346.3)" textLength="57.8" lengthAdjust="spacingAndGlyphs" stroke="#1a1a1a" stroke-width="0.18">Cell Viability</text>
<text x="19.68" y="343.5" font-size="9.4" text-anchor="middle" font-weight="normal" fill="#1a1a1a" transform="rotate(-90 19.68 343.5)" textLength="66.3" lengthAdjust="spacingAndGlyphs" stroke="#1a1a1a" stroke-width="0.18">(560/590nM)</text>
<line x1="62.7" y1="308.4" x2="81.7" y2="308.4" stroke="#000" stroke-width="1.5" stroke-linecap="butt"/>
<text x="72.2" y="309.42" font-size="9.5" text-anchor="middle" font-weight="normal" fill="#000" stroke="#000" stroke-width="0.3">**</text>
<line x1="101" y1="308.4" x2="120" y2="308.4" stroke="#000" stroke-width="1.5" stroke-linecap="butt"/>
<text x="110.5" y="309.42" font-size="9.5" text-anchor="middle" font-weight="normal" fill="#000" stroke="#000" stroke-width="0.3">**</text>
<line x1="142.7" y1="308.4" x2="161.8" y2="308.4" stroke="#000" stroke-width="1.5" stroke-linecap="butt"/>
<text x="152.25" y="309.42" font-size="9.5" text-anchor="middle" font-weight="normal" fill="#000" stroke="#000" stroke-width="0.3">**</text>
<line x1="58" y1="429.2" x2="87" y2="429.2" stroke="#2a2a2a" stroke-width="1" stroke-linecap="butt"/>
<text x="70" y="441.8" font-size="10.2" text-anchor="middle" font-weight="normal" fill="#1a1a1a" stroke="#1a1a1a" stroke-width="0.18">U-2932</text>
<line x1="98.3" y1="429.2" x2="127.6" y2="429.2" stroke="#2a2a2a" stroke-width="1" stroke-linecap="butt"/>
<text x="116.8" y="441.8" font-size="10.2" text-anchor="middle" font-weight="normal" fill="#1a1a1a" stroke="#1a1a1a" stroke-width="0.18">SU-DHL16</text>
<line x1="138.6" y1="429.2" x2="167.5" y2="429.2" stroke="#2a2a2a" stroke-width="1" stroke-linecap="butt"/>
<text x="160" y="441.8" font-size="10.2" text-anchor="middle" font-weight="normal" fill="#1a1a1a" stroke="#1a1a1a" stroke-width="0.18">RC-K8</text>
<text x="186.3" y="291.3" font-size="11.3" text-anchor="start" font-weight="bold" fill="#000">J</text>
<line x1="235.25" y1="347.2" x2="235.25" y2="344.3" stroke="#000" stroke-width="1.5" stroke-linecap="butt"/>
<line x1="231.5" y1="344.3" x2="239" y2="344.3" stroke="#000" stroke-width="1.5" stroke-linecap="butt"/>
<rect x="228.1" y="347.2" width="14.3" height="37.9" fill="#000" stroke="none" stroke-width="0"/>
<line x1="254.65" y1="322.5" x2="254.65" y2="320.5" stroke="#000" stroke-width="1.5" stroke-linecap="butt"/>
<line x1="250.9" y1="320.5" x2="258.4" y2="320.5" stroke="#000" stroke-width="1.5" stroke-linecap="butt"/>
<rect x="248.25" y="323.25" width="12.8" height="61.85" fill="#fff" stroke="#000" stroke-width="1.5"/>
<line x1="274.35" y1="358.8" x2="274.35" y2="358.4" stroke="#000" stroke-width="1.5" stroke-linecap="butt"/>
<line x1="270.6" y1="358.4" x2="278.1" y2="358.4" stroke="#000" stroke-width="1.5" stroke-linecap="butt"/>
<rect x="267.2" y="358.8" width="14.3" height="26.3" fill="#000" stroke="none" stroke-width="0"/>
<line x1="294.05" y1="338.9" x2="294.05" y2="336.4" stroke="#000" stroke-width="1.5" stroke-linecap="butt"/>
<line x1="290.3" y1="336.4" x2="297.8" y2="336.4" stroke="#000" stroke-width="1.5" stroke-linecap="butt"/>
<rect x="287.65" y="339.65" width="12.8" height="45.45" fill="#fff" stroke="#000" stroke-width="1.5"/>
<line x1="313.65" y1="353.6" x2="313.65" y2="351.3" stroke="#000" stroke-width="1.5" stroke-linecap="butt"/>
<line x1="309.9" y1="351.3" x2="317.4" y2="351.3" stroke="#000" stroke-width="1.5" stroke-linecap="butt"/>
<rect x="306.6" y="353.6" width="14.1" height="31.5" fill="#000" stroke="none" stroke-width="0"/>
<line x1="332.9" y1="337.9" x2="332.9" y2="335.6" stroke="#000" stroke-width="1.5" stroke-linecap="butt"/>
<line x1="329.15" y1="335.6" x2="336.65" y2="335.6" stroke="#000" stroke-width="1.5" stroke-linecap="butt"/>
<rect x="326.75" y="338.65" width="12.3" height="46.45" fill="#fff" stroke="#000" stroke-width="1.5"/>
<line x1="225.5" y1="306.15" x2="225.5" y2="385.85" stroke="#000" stroke-width="1.5" stroke-linecap="butt"/>
<line x1="222.9" y1="306.9" x2="225.5" y2="306.9" stroke="#000" stroke-width="1.5" stroke-linecap="butt"/>
<text x="221.6" y="310.5" font-size="10" text-anchor="end" font-weight="normal" fill="#000" stroke="#000" stroke-width="0.3">60</text>
<line x1="222.9" y1="333" x2="225.5" y2="333" stroke="#000" stroke-width="1.5" stroke-linecap="butt"/>
<text x="221.6" y="336.6" font-size="10" text-anchor="end" font-weight="normal" fill="#000" stroke="#000" stroke-width="0.3">40</text>
<line x1="222.9" y1="359.1" x2="225.5" y2="359.1" stroke="#000" stroke-width="1.5" stroke-linecap="butt"/>
<text x="221.6" y="362.7" font-size="10" text-anchor="end" font-weight="normal" fill="#000" stroke="#000" stroke-width="0.3">20</text>
<line x1="222.9" y1="385.1" x2="225.5" y2="385.1" stroke="#000" stroke-width="1.5" stroke-linecap="butt"/>
<text x="221.6" y="388.7" font-size="10" text-anchor="end" font-weight="normal" fill="#000" stroke="#000" stroke-width="0.3">0</text>
<line x1="224.75" y1="385.1" x2="341.7" y2="385.1" stroke="#000" stroke-width="1.5" stroke-linecap="butt"/>
<line x1="235.25" y1="385.1" x2="235.25" y2="387.3" stroke="#000" stroke-width="1.5" stroke-linecap="butt"/>
<line x1="254.65" y1="385.1" x2="254.65" y2="387.3" stroke="#000" stroke-width="1.5" stroke-linecap="butt"/>
<line x1="274.35" y1="385.1" x2="274.35" y2="387.3" stroke="#000" stroke-width="1.5" stroke-linecap="butt"/>
<line x1="294.05" y1="385.1" x2="294.05" y2="387.3" stroke="#000" stroke-width="1.5" stroke-linecap="butt"/>
<line x1="313.65" y1="385.1" x2="313.65" y2="387.3" stroke="#000" stroke-width="1.5" stroke-linecap="butt"/>
<line x1="332.9" y1="385.1" x2="332.9" y2="387.3" stroke="#000" stroke-width="1.5" stroke-linecap="butt"/>
<text x="239.25" y="390" font-size="9.5" text-anchor="end" font-weight="normal" fill="#1a1a1a" transform="rotate(-90 239.25 390)" stroke="#1a1a1a" stroke-width="0.18">pTCN</text>
<text x="258.65" y="390" font-size="9.5" text-anchor="end" font-weight="normal" fill="#1a1a1a" transform="rotate(-90 258.65 390)" stroke="#1a1a1a" stroke-width="0.18">pS1PR2</text>
<text x="278.35" y="390" font-size="9.5" text-anchor="end" font-weight="normal" fill="#1a1a1a" transform="rotate(-90 278.35 390)" stroke="#1a1a1a" stroke-width="0.18">pTCN</text>
<text x="298.05" y="390" font-size="9.5" text-anchor="end" font-weight="normal" fill="#1a1a1a" transform="rotate(-90 298.05 390)" stroke="#1a1a1a" stroke-width="0.18">pS1PR2</text>
<text x="317.65" y="390" font-size="9.5" text-anchor="end" font-weight="normal" fill="#1a1a1a" transform="rotate(-90 317.65 390)" stroke="#1a1a1a" stroke-width="0.18">pTCN</text>
<text x="336.9" y="390" font-size="9.5" text-anchor="end" font-weight="normal" fill="#1a1a1a" transform="rotate(-90 336.9 390)" stroke="#1a1a1a" stroke-width="0.18">pS1PR2</text>
<text x="190.28" y="351" font-size="9.4" text-anchor="middle" font-weight="normal" fill="#1a1a1a" transform="rotate(-90 190.28 351)" textLength="46.8" lengthAdjust="spacingAndGlyphs" stroke="#1a1a1a" stroke-width="0.18">AnnexinV</text>
<text x="188" y="325.2" font-size="6.5" text-anchor="middle" font-weight="normal" fill="#1a1a1a" transform="rotate(-90 188 325.2)" stroke="#1a1a1a" stroke-width="0.18">+</text>
<text x="201.38" y="347.7" font-size="9.4" text-anchor="middle" font-weight="normal" fill="#1a1a1a" transform="rotate(-90 201.38 347.7)" textLength="38.5" lengthAdjust="spacingAndGlyphs" stroke="#1a1a1a" stroke-width="0.18">cells (%)</text>
<line x1="235.6" y1="308.6" x2="255.2" y2="308.6" stroke="#000" stroke-width="1.5" stroke-linecap="butt"/>
<text x="245.4" y="309.62" font-size="9.5" text-anchor="middle" font-weight="normal" fill="#000" stroke="#000" stroke-width="0.3">**</text>
<line x1="274.5" y1="308.6" x2="294.2" y2="308.6" stroke="#000" stroke-width="1.5" stroke-linecap="butt"/>
<text x="284.35" y="309.62" font-size="9.5" text-anchor="middle" font-weight="normal" fill="#000" stroke="#000" stroke-width="0.3">**</text>
<line x1="316" y1="308.6" x2="335.8" y2="308.6" stroke="#000" stroke-width="1.5" stroke-linecap="butt"/>
<text x="325.9" y="309.62" font-size="9.5" text-anchor="middle" font-weight="normal" fill="#000" stroke="#000" stroke-width="0.3">**</text>
<line x1="228.4" y1="429.2" x2="256.8" y2="429.2" stroke="#2a2a2a" stroke-width="1" stroke-linecap="butt"/>
<text x="241" y="441.8" font-size="10.2" text-anchor="middle" font-weight="normal" fill="#1a1a1a" stroke="#1a1a1a" stroke-width="0.18">U-2932</text>
<line x1="270.6" y1="429.2" x2="299" y2="429.2" stroke="#2a2a2a" stroke-width="1" stroke-linecap="butt"/>
<text x="286.6" y="441.8" font-size="10.2" text-anchor="middle" font-weight="normal" fill="#1a1a1a" stroke="#1a1a1a" stroke-width="0.18">SU-DHL16</text>
<line x1="309.5" y1="429.2" x2="337.8" y2="429.2" stroke="#2a2a2a" stroke-width="1" stroke-linecap="butt"/>
<text x="329.6" y="441.8" font-size="10.2" text-anchor="middle" font-weight="normal" fill="#1a1a1a" stroke="#1a1a1a" stroke-width="0.18">RC-K8</text>
<text x="357.3" y="291.3" font-size="11.3" text-anchor="start" font-weight="bold" fill="#000">K</text>
<line x1="407.8" y1="346.2" x2="407.8" y2="343.7" stroke="#000" stroke-width="1.5" stroke-linecap="butt"/>
<line x1="404.05" y1="343.7" x2="411.55" y2="343.7" stroke="#000" stroke-width="1.5" stroke-linecap="butt"/>
<rect x="400.6" y="346.2" width="14.4" height="38.9" fill="#000" stroke="none" stroke-width="0"/>
<line x1="427.4" y1="320" x2="427.4" y2="318.6" stroke="#000" stroke-width="1.5" stroke-linecap="butt"/>
<line x1="423.65" y1="318.6" x2="431.15" y2="318.6" stroke="#000" stroke-width="1.5" stroke-linecap="butt"/>
<rect x="420.85" y="320.75" width="13.1" height="64.35" fill="#fff" stroke="#000" stroke-width="1.5"/>
<line x1="447.1" y1="357" x2="447.1" y2="354.4" stroke="#000" stroke-width="1.5" stroke-linecap="butt"/>
<line x1="443.35" y1="354.4" x2="450.85" y2="354.4" stroke="#000" stroke-width="1.5" stroke-linecap="butt"/>
<rect x="439.9" y="357" width="14.4" height="28.1" fill="#000" stroke="none" stroke-width="0"/>
<line x1="466.6" y1="342.6" x2="466.6" y2="340" stroke="#000" stroke-width="1.5" stroke-linecap="butt"/>
<line x1="462.85" y1="340" x2="470.35" y2="340" stroke="#000" stroke-width="1.5" stroke-linecap="butt"/>
<rect x="460.15" y="343.35" width="12.9" height="41.75" fill="#fff" stroke="#000" stroke-width="1.5"/>
<line x1="486.05" y1="367" x2="486.05" y2="366.6" stroke="#000" stroke-width="1.5" stroke-linecap="butt"/>
<line x1="482.3" y1="366.6" x2="489.8" y2="366.6" stroke="#000" stroke-width="1.5" stroke-linecap="butt"/>
<rect x="478.9" y="367" width="14.3" height="18.1" fill="#000" stroke="none" stroke-width="0"/>
<line x1="505.75" y1="351.3" x2="505.75" y2="350.1" stroke="#000" stroke-width="1.5" stroke-linecap="butt"/>
<line x1="502" y1="350.1" x2="509.5" y2="350.1" stroke="#000" stroke-width="1.5" stroke-linecap="butt"/>
<rect x="499.35" y="352.05" width="12.8" height="33.05" fill="#fff" stroke="#000" stroke-width="1.5"/>
<line x1="397.7" y1="306.35" x2="397.7" y2="385.85" stroke="#000" stroke-width="1.5" stroke-linecap="butt"/>
<line x1="395.1" y1="307.1" x2="397.7" y2="307.1" stroke="#000" stroke-width="1.5" stroke-linecap="butt"/>
<text x="393.2" y="310.7" font-size="10" text-anchor="end" font-weight="normal" fill="#000" stroke="#000" stroke-width="0.3">60</text>
<line x1="395.1" y1="333" x2="397.7" y2="333" stroke="#000" stroke-width="1.5" stroke-linecap="butt"/>
<text x="393.2" y="336.6" font-size="10" text-anchor="end" font-weight="normal" fill="#000" stroke="#000" stroke-width="0.3">40</text>
<line x1="395.1" y1="359.1" x2="397.7" y2="359.1" stroke="#000" stroke-width="1.5" stroke-linecap="butt"/>
<text x="393.2" y="362.7" font-size="10" text-anchor="end" font-weight="normal" fill="#000" stroke="#000" stroke-width="0.3">20</text>
<line x1="395.1" y1="385.1" x2="397.7" y2="385.1" stroke="#000" stroke-width="1.5" stroke-linecap="butt"/>
<text x="393.2" y="388.7" font-size="10" text-anchor="end" font-weight="normal" fill="#000" stroke="#000" stroke-width="0.3">0</text>
<line x1="396.95" y1="385.1" x2="515.6" y2="385.1" stroke="#000" stroke-width="1.5" stroke-linecap="butt"/>
<line x1="407.8" y1="385.1" x2="407.8" y2="387.3" stroke="#000" stroke-width="1.5" stroke-linecap="butt"/>
<line x1="427.4" y1="385.1" x2="427.4" y2="387.3" stroke="#000" stroke-width="1.5" stroke-linecap="butt"/>
<line x1="447.1" y1="385.1" x2="447.1" y2="387.3" stroke="#000" stroke-width="1.5" stroke-linecap="butt"/>
<line x1="466.6" y1="385.1" x2="466.6" y2="387.3" stroke="#000" stroke-width="1.5" stroke-linecap="butt"/>
<line x1="486.05" y1="385.1" x2="486.05" y2="387.3" stroke="#000" stroke-width="1.5" stroke-linecap="butt"/>
<line x1="505.75" y1="385.1" x2="505.75" y2="387.3" stroke="#000" stroke-width="1.5" stroke-linecap="butt"/>
<text x="411.8" y="390" font-size="9.5" text-anchor="end" font-weight="normal" fill="#1a1a1a" transform="rotate(-90 411.8 390)" stroke="#1a1a1a" stroke-width="0.18">pTCN</text>
<text x="431.4" y="390" font-size="9.5" text-anchor="end" font-weight="normal" fill="#1a1a1a" transform="rotate(-90 431.4 390)" stroke="#1a1a1a" stroke-width="0.18">pS1PR2</text>
<text x="451.1" y="390" font-size="9.5" text-anchor="end" font-weight="normal" fill="#1a1a1a" transform="rotate(-90 451.1 390)" stroke="#1a1a1a" stroke-width="0.18">pTCN</text>
<text x="470.6" y="390" font-size="9.5" text-anchor="end" font-weight="normal" fill="#1a1a1a" transform="rotate(-90 470.6 390)" stroke="#1a1a1a" stroke-width="0.18">pS1PR2</text>
<text x="490.05" y="390" font-size="9.5" text-anchor="end" font-weight="normal" fill="#1a1a1a" transform="rotate(-90 490.05 390)" stroke="#1a1a1a" stroke-width="0.18">pTCN</text>
<text x="509.75" y="390" font-size="9.5" text-anchor="end" font-weight="normal" fill="#1a1a1a" transform="rotate(-90 509.75 390)" stroke="#1a1a1a" stroke-width="0.18">pS1PR2</text>
<text x="361.98" y="352" font-size="9.4" text-anchor="middle" font-weight="normal" fill="#1a1a1a" transform="rotate(-90 361.98 352)" textLength="80.5" lengthAdjust="spacingAndGlyphs" stroke="#1a1a1a" stroke-width="0.18">active Caspase-3</text>
<text x="359.2" y="307.8" font-size="6.5" text-anchor="middle" font-weight="normal" fill="#1a1a1a" transform="rotate(-90 359.2 307.8)" stroke="#1a1a1a" stroke-width="0.18">+</text>
<text x="375.38" y="347" font-size="9.4" text-anchor="middle" font-weight="normal" fill="#1a1a1a" transform="rotate(-90 375.38 347)" textLength="40" lengthAdjust="spacingAndGlyphs" stroke="#1a1a1a" stroke-width="0.18">cells (%)</text>
<line x1="408.7" y1="310" x2="427.2" y2="310" stroke="#000" stroke-width="1.5" stroke-linecap="butt"/>
<text x="417.95" y="311.02" font-size="9.5" text-anchor="middle" font-weight="normal" fill="#000" stroke="#000" stroke-width="0.3">***</text>
<line x1="447" y1="310" x2="465.3" y2="310" stroke="#000" stroke-width="1.5" stroke-linecap="butt"/>
<text x="456.15" y="311.02" font-size="9.5" text-anchor="middle" font-weight="normal" fill="#000" stroke="#000" stroke-width="0.3">*</text>
<line x1="488.7" y1="310" x2="507.5" y2="310" stroke="#000" stroke-width="1.5" stroke-linecap="butt"/>
<text x="498.1" y="311.02" font-size="9.5" text-anchor="middle" font-weight="normal" fill="#000" stroke="#000" stroke-width="0.3">***</text>
<line x1="402" y1="429.2" x2="431.2" y2="429.2" stroke="#2a2a2a" stroke-width="1" stroke-linecap="butt"/>
<text x="415.3" y="441.8" font-size="10.2" text-anchor="middle" font-weight="normal" fill="#1a1a1a" stroke="#1a1a1a" stroke-width="0.18">U-2932</text>
<line x1="443.2" y1="429.2" x2="472.5" y2="429.2" stroke="#2a2a2a" stroke-width="1" stroke-linecap="butt"/>
<text x="460.3" y="441.8" font-size="10.2" text-anchor="middle" font-weight="normal" fill="#1a1a1a" stroke="#1a1a1a" stroke-width="0.18">SU-DHL16</text>
<line x1="484.2" y1="429.2" x2="512.6" y2="429.2" stroke="#2a2a2a" stroke-width="1" stroke-linecap="butt"/>
<text x="504.5" y="441.8" font-size="10.2" text-anchor="middle" font-weight="normal" fill="#1a1a1a" stroke="#1a1a1a" stroke-width="0.18">RC-K8</text>
<text x="1" y="463.4" font-size="11.3" text-anchor="start" font-weight="bold" fill="#000">L</text>
<rect x="28.9" y="471" width="60.1" height="61.4" fill="#fff" stroke="#8e8e8e" stroke-width="0.9"/>
<path d="M33.6 532 L35.6 531 L36.7 528 L40.3 477.7 Q40.9 472.8 41.5 477.7 L45.1 528 L46.2 531 L48.4 532 Z" fill="#d6d6d6" stroke="#a0a0a0" stroke-width="0.7" stroke-linejoin="round"/>
<path d="M46.2 532 L48.3 531 L49.4 528 L53.1 480.2 Q53.7 475.5 54.3 480.2 L58.2 528 L59.4 531 L61.8 532 Z" fill="#e1e9b9" stroke="#a3bb45" stroke-width="0.8" stroke-linejoin="round"/>
<line x1="47.3" y1="529.3" x2="88.9" y2="529.3" stroke="#000" stroke-width="1.1" stroke-linecap="butt"/>
<line x1="47.6" y1="527.6" x2="47.6" y2="531" stroke="#000" stroke-width="1" stroke-linecap="butt"/>
<line x1="88.6" y1="527.6" x2="88.6" y2="531" stroke="#000" stroke-width="1" stroke-linecap="butt"/>
<text x="74.1" y="507.4" font-size="10" text-anchor="middle" font-weight="normal" fill="#3c3c3c" stroke="#3c3c3c" stroke-width="0.18">eGFP</text>
<text x="74" y="520" font-size="10" text-anchor="middle" font-weight="normal" fill="#3c3c3c" stroke="#3c3c3c" stroke-width="0.18">93.6%</text>
<line x1="20.3" y1="547.7" x2="20.3" y2="478" stroke="#000" stroke-width="1.4" stroke-linecap="butt"/>
<path d="M20.3 471 L25.6 481.7 L20.3 479.7 L15.0 481.7 Z" fill="#000"/>
<line x1="19.6" y1="547" x2="83" y2="547" stroke="#000" stroke-width="1.4" stroke-linecap="butt"/>
<path d="M90.2 547 L79.5 552.4 L81.5 547 L79.5 541.6 Z" fill="#000"/>
<text x="13.4" y="511.5" font-size="10" text-anchor="middle" font-weight="normal" fill="#1a1a1a" transform="rotate(-90 13.4 511.5)" stroke="#1a1a1a" stroke-width="0.18">Count</text>
<text x="52.2" y="557.9" font-size="10" text-anchor="middle" font-weight="normal" fill="#1a1a1a" stroke="#1a1a1a" stroke-width="0.18">eGFP</text>
<text x="126.3" y="463.4" font-size="11.3" text-anchor="start" font-weight="bold" fill="#000">M</text>
<rect x="169" y="532.6" width="14" height="1.1" fill="#000" stroke="none" stroke-width="0"/>
<line x1="195.8" y1="524.5" x2="195.8" y2="520.2" stroke="#000" stroke-width="1.5" stroke-linecap="butt"/>
<line x1="192.3" y1="520.2" x2="199.3" y2="520.2" stroke="#000" stroke-width="1.5" stroke-linecap="butt"/>
<rect x="188.7" y="524.5" width="14.2" height="9.2" fill="#000" stroke="none" stroke-width="0"/>
<line x1="215.95" y1="529.9" x2="215.95" y2="529.2" stroke="#000" stroke-width="1.5" stroke-linecap="butt"/>
<line x1="212.45" y1="529.2" x2="219.45" y2="529.2" stroke="#000" stroke-width="1.5" stroke-linecap="butt"/>
<rect x="208.9" y="529.9" width="14.1" height="3.8" fill="#000" stroke="none" stroke-width="0"/>
<line x1="235.2" y1="489.9" x2="235.2" y2="488.7" stroke="#000" stroke-width="1.5" stroke-linecap="butt"/>
<line x1="231.7" y1="488.7" x2="238.7" y2="488.7" stroke="#000" stroke-width="1.5" stroke-linecap="butt"/>
<rect x="228.95" y="490.65" width="12.5" height="43.05" fill="#fff" stroke="#000" stroke-width="1.5"/>
<rect x="226" y="500.4" width="20" height="6" fill="#fff" stroke="none" stroke-width="0"/>
<line x1="166.8" y1="482.1" x2="166.8" y2="501" stroke="#000" stroke-width="1.5" stroke-linecap="butt"/>
<line x1="164.2" y1="500.4" x2="166.8" y2="500.4" stroke="#000" stroke-width="1.5" stroke-linecap="butt"/>
<line x1="166.8" y1="504.8" x2="166.8" y2="534.45" stroke="#000" stroke-width="1.5" stroke-linecap="butt"/>
<line x1="164.2" y1="482.7" x2="166.8" y2="482.7" stroke="#000" stroke-width="1.5" stroke-linecap="butt"/>
<text x="163.6" y="486.3" font-size="10" text-anchor="end" font-weight="normal" fill="#000" stroke="#000" stroke-width="0.3">0.4</text>
<line x1="164.2" y1="493.1" x2="166.8" y2="493.1" stroke="#000" stroke-width="1.5" stroke-linecap="butt"/>
<text x="163.6" y="496.7" font-size="10" text-anchor="end" font-weight="normal" fill="#000" stroke="#000" stroke-width="0.3">0.2</text>
<line x1="164.2" y1="505.2" x2="166.8" y2="505.2" stroke="#000" stroke-width="1.5" stroke-linecap="butt"/>
<text x="163.6" y="508.8" font-size="10" text-anchor="end" font-weight="normal" fill="#000" stroke="#000" stroke-width="0.3">0.020</text>
<line x1="164.2" y1="519.6" x2="166.8" y2="519.6" stroke="#000" stroke-width="1.5" stroke-linecap="butt"/>
<text x="163.6" y="523.2" font-size="10" text-anchor="end" font-weight="normal" fill="#000" stroke="#000" stroke-width="0.3">0.010</text>
<line x1="164.2" y1="533.7" x2="166.8" y2="533.7" stroke="#000" stroke-width="1.5" stroke-linecap="butt"/>
<text x="163.6" y="537.3" font-size="10" text-anchor="end" font-weight="normal" fill="#000" stroke="#000" stroke-width="0.3">0</text>
<line x1="166.05" y1="533.7" x2="244" y2="533.7" stroke="#000" stroke-width="1.5" stroke-linecap="butt"/>
<line x1="176" y1="533.7" x2="176" y2="535.9" stroke="#000" stroke-width="1.5" stroke-linecap="butt"/>
<line x1="195.8" y1="533.7" x2="195.8" y2="535.9" stroke="#000" stroke-width="1.5" stroke-linecap="butt"/>
<line x1="215.9" y1="533.7" x2="215.9" y2="535.9" stroke="#000" stroke-width="1.5" stroke-linecap="butt"/>
<line x1="235.2" y1="533.7" x2="235.2" y2="535.9" stroke="#000" stroke-width="1.5" stroke-linecap="butt"/>
<text x="123.8" y="510" font-size="10" text-anchor="middle" font-weight="normal" fill="#1a1a1a" transform="rotate(-90 123.8 510)" stroke="#1a1a1a" stroke-width="0.18">relative expression</text>
<text x="135.53" y="511.6" font-size="9.8" text-anchor="middle" font-weight="normal" fill="#1a1a1a" transform="rotate(-90 135.53 511.6)" textLength="62.5" lengthAdjust="spacingAndGlyphs" stroke="#1a1a1a" stroke-width="0.18">S1PR2/ACTIN</text>
<line x1="178.4" y1="486.3" x2="196" y2="486.3" stroke="#000" stroke-width="1.5" stroke-linecap="butt"/>
<text x="186.6" y="484.1" font-size="10" text-anchor="middle" font-weight="normal" fill="#1a1a1a" stroke="#1a1a1a" stroke-width="0.18">n.s.</text>
<line x1="199.4" y1="486.3" x2="236" y2="486.3" stroke="#000" stroke-width="1.5" stroke-linecap="butt"/>
<text x="212.5" y="487.82" font-size="9.5" text-anchor="middle" font-weight="normal" fill="#000" stroke="#000" stroke-width="0.3">**</text>
<line x1="218.2" y1="480.6" x2="236.3" y2="480.6" stroke="#000" stroke-width="1.5" stroke-linecap="butt"/>
<text x="227.6" y="481.62" font-size="9.5" text-anchor="middle" font-weight="normal" fill="#000" stroke="#000" stroke-width="0.3">**</text>
<text x="164" y="546.8" font-size="10" text-anchor="end" font-weight="normal" fill="#1a1a1a" stroke="#1a1a1a" stroke-width="0.18">eGFP</text>
<text x="164" y="560.6" font-size="10" text-anchor="end" font-weight="normal" fill="#1a1a1a" stroke="#1a1a1a" stroke-width="0.18">DOX</text>
<line x1="174.8" y1="544.9" x2="177.8" y2="544.9" stroke="#000" stroke-width="1.2" stroke-linecap="butt"/>
<line x1="174.8" y1="558.7" x2="177.8" y2="558.7" stroke="#000" stroke-width="1.2" stroke-linecap="butt"/>
<line x1="194.2" y1="544.9" x2="197.2" y2="544.9" stroke="#000" stroke-width="1.2" stroke-linecap="butt"/>
<line x1="193.2" y1="558.7" x2="198.2" y2="558.7" stroke="#000" stroke-width="1.2" stroke-linecap="butt"/>
<line x1="195.7" y1="556.2" x2="195.7" y2="561.2" stroke="#000" stroke-width="1.2" stroke-linecap="butt"/>
<line x1="213.4" y1="544.9" x2="218.4" y2="544.9" stroke="#000" stroke-width="1.2" stroke-linecap="butt"/>
<line x1="215.9" y1="542.4" x2="215.9" y2="547.4" stroke="#000" stroke-width="1.2" stroke-linecap="butt"/>
<line x1="214.4" y1="558.7" x2="217.4" y2="558.7" stroke="#000" stroke-width="1.2" stroke-linecap="butt"/>
<line x1="233" y1="544.9" x2="238" y2="544.9" stroke="#000" stroke-width="1.2" stroke-linecap="butt"/>
<line x1="235.5" y1="542.4" x2="235.5" y2="547.4" stroke="#000" stroke-width="1.2" stroke-linecap="butt"/>
<line x1="233" y1="558.7" x2="238" y2="558.7" stroke="#000" stroke-width="1.2" stroke-linecap="butt"/>
<line x1="235.5" y1="556.2" x2="235.5" y2="561.2" stroke="#000" stroke-width="1.2" stroke-linecap="butt"/>
<text x="257.6" y="463.4" font-size="11.3" text-anchor="start" font-weight="bold" fill="#000">N</text>
<line x1="316.1" y1="491.5" x2="316.1" y2="491.1" stroke="#000" stroke-width="1.5" stroke-linecap="butt"/>
<line x1="312.6" y1="491.1" x2="319.6" y2="491.1" stroke="#000" stroke-width="1.5" stroke-linecap="butt"/>
<rect x="309" y="491.5" width="14.2" height="42.2" fill="#000" stroke="none" stroke-width="0"/>
<line x1="335.85" y1="491.5" x2="335.85" y2="489.8" stroke="#000" stroke-width="1.5" stroke-linecap="butt"/>
<line x1="332.35" y1="489.8" x2="339.35" y2="489.8" stroke="#000" stroke-width="1.5" stroke-linecap="butt"/>
<rect x="328.7" y="491.5" width="14.3" height="42.2" fill="#000" stroke="none" stroke-width="0"/>
<line x1="355.75" y1="493.9" x2="355.75" y2="489.4" stroke="#000" stroke-width="1.5" stroke-linecap="butt"/>
<line x1="352.25" y1="489.4" x2="359.25" y2="489.4" stroke="#000" stroke-width="1.5" stroke-linecap="butt"/>
<rect x="348.6" y="493.9" width="14.3" height="39.8" fill="#000" stroke="none" stroke-width="0"/>
<line x1="375.3" y1="513.4" x2="375.3" y2="510.6" stroke="#000" stroke-width="1.5" stroke-linecap="butt"/>
<line x1="371.8" y1="510.6" x2="378.8" y2="510.6" stroke="#000" stroke-width="1.5" stroke-linecap="butt"/>
<rect x="369.05" y="514.15" width="12.5" height="19.55" fill="#fff" stroke="#000" stroke-width="1.5"/>
<line x1="306.8" y1="482" x2="306.8" y2="534.45" stroke="#000" stroke-width="1.5" stroke-linecap="butt"/>
<line x1="304.2" y1="482.7" x2="306.8" y2="482.7" stroke="#000" stroke-width="1.5" stroke-linecap="butt"/>
<text x="303.6" y="486.3" font-size="10" text-anchor="end" font-weight="normal" fill="#000" stroke="#000" stroke-width="0.3">3x10<tspan font-size='6.3' dy='-3'>7</tspan></text>
<line x1="304.2" y1="499.7" x2="306.8" y2="499.7" stroke="#000" stroke-width="1.5" stroke-linecap="butt"/>
<text x="303.6" y="503.3" font-size="10" text-anchor="end" font-weight="normal" fill="#000" stroke="#000" stroke-width="0.3">2x10<tspan font-size='6.3' dy='-3'>7</tspan></text>
<line x1="304.2" y1="516.7" x2="306.8" y2="516.7" stroke="#000" stroke-width="1.5" stroke-linecap="butt"/>
<text x="303.6" y="520.3" font-size="10" text-anchor="end" font-weight="normal" fill="#000" stroke="#000" stroke-width="0.3">1x10<tspan font-size='6.3' dy='-3'>7</tspan></text>
<line x1="304.2" y1="533.7" x2="306.8" y2="533.7" stroke="#000" stroke-width="1.5" stroke-linecap="butt"/>
<text x="303.6" y="537.3" font-size="10" text-anchor="end" font-weight="normal" fill="#000" stroke="#000" stroke-width="0.3">0</text>
<line x1="306.05" y1="533.7" x2="384" y2="533.7" stroke="#000" stroke-width="1.5" stroke-linecap="butt"/>
<line x1="316.1" y1="533.7" x2="316.1" y2="535.9" stroke="#000" stroke-width="1.5" stroke-linecap="butt"/>
<line x1="335.8" y1="533.7" x2="335.8" y2="535.9" stroke="#000" stroke-width="1.5" stroke-linecap="butt"/>
<line x1="355.8" y1="533.7" x2="355.8" y2="535.9" stroke="#000" stroke-width="1.5" stroke-linecap="butt"/>
<line x1="375.3" y1="533.7" x2="375.3" y2="535.9" stroke="#000" stroke-width="1.5" stroke-linecap="butt"/>
<text x="261.86" y="508.4" font-size="9.6" text-anchor="middle" font-weight="normal" fill="#1a1a1a" transform="rotate(-90 261.86 508.4)" textLength="57" lengthAdjust="spacingAndGlyphs" stroke="#1a1a1a" stroke-width="0.18">Cell Viability</text>
<text x="275.13" y="508" font-size="9.8" text-anchor="middle" font-weight="normal" fill="#1a1a1a" transform="rotate(-90 275.13 508)" textLength="57" lengthAdjust="spacingAndGlyphs" stroke="#1a1a1a" stroke-width="0.18">(560/590nM)</text>
<line x1="316.3" y1="486.2" x2="335" y2="486.2" stroke="#000" stroke-width="1.5" stroke-linecap="butt"/>
<text x="324.9" y="484.1" font-size="10" text-anchor="middle" font-weight="normal" fill="#1a1a1a" stroke="#1a1a1a" stroke-width="0.18">n.s.</text>
<line x1="337.8" y1="486.2" x2="375.3" y2="486.2" stroke="#000" stroke-width="1.5" stroke-linecap="butt"/>
<text x="354.9" y="487.92" font-size="9.5" text-anchor="middle" font-weight="normal" fill="#000" stroke="#000" stroke-width="0.3">**</text>
<line x1="355.3" y1="479.6" x2="374.4" y2="479.6" stroke="#000" stroke-width="1.5" stroke-linecap="butt"/>
<text x="365.4" y="481.32" font-size="9.5" text-anchor="middle" font-weight="normal" fill="#000" stroke="#000" stroke-width="0.3">*</text>
<text x="304.4" y="545.9" font-size="10" text-anchor="end" font-weight="normal" fill="#1a1a1a" stroke="#1a1a1a" stroke-width="0.18">eGFP</text>
<text x="304.4" y="560.1" font-size="10" text-anchor="end" font-weight="normal" fill="#1a1a1a" stroke="#1a1a1a" stroke-width="0.18">DOX</text>
<line x1="314.8" y1="544" x2="317.8" y2="544" stroke="#000" stroke-width="1.2" stroke-linecap="butt"/>
<line x1="314.8" y1="558.2" x2="317.8" y2="558.2" stroke="#000" stroke-width="1.2" stroke-linecap="butt"/>
<line x1="334.2" y1="544" x2="337.2" y2="544" stroke="#000" stroke-width="1.2" stroke-linecap="butt"/>
<line x1="333.2" y1="558.2" x2="338.2" y2="558.2" stroke="#000" stroke-width="1.2" stroke-linecap="butt"/>
<line x1="335.7" y1="555.7" x2="335.7" y2="560.7" stroke="#000" stroke-width="1.2" stroke-linecap="butt"/>
<line x1="353.4" y1="544" x2="358.4" y2="544" stroke="#000" stroke-width="1.2" stroke-linecap="butt"/>
<line x1="355.9" y1="541.5" x2="355.9" y2="546.5" stroke="#000" stroke-width="1.2" stroke-linecap="butt"/>
<line x1="354.4" y1="558.2" x2="357.4" y2="558.2" stroke="#000" stroke-width="1.2" stroke-linecap="butt"/>
<line x1="372.8" y1="544" x2="377.8" y2="544" stroke="#000" stroke-width="1.2" stroke-linecap="butt"/>
<line x1="375.3" y1="541.5" x2="375.3" y2="546.5" stroke="#000" stroke-width="1.2" stroke-linecap="butt"/>
<line x1="372.8" y1="558.2" x2="377.8" y2="558.2" stroke="#000" stroke-width="1.2" stroke-linecap="butt"/>
<line x1="375.3" y1="555.7" x2="375.3" y2="560.7" stroke="#000" stroke-width="1.2" stroke-linecap="butt"/>
<text x="396.3" y="463.4" font-size="11.3" text-anchor="start" font-weight="bold" fill="#000">O</text>
<line x1="443.85" y1="515" x2="443.85" y2="514.2" stroke="#000" stroke-width="1.5" stroke-linecap="butt"/>
<line x1="440.35" y1="514.2" x2="447.35" y2="514.2" stroke="#000" stroke-width="1.5" stroke-linecap="butt"/>
<rect x="436.9" y="515" width="13.9" height="18.7" fill="#000" stroke="none" stroke-width="0"/>
<line x1="463.1" y1="513" x2="463.1" y2="512.3" stroke="#000" stroke-width="1.5" stroke-linecap="butt"/>
<line x1="459.6" y1="512.3" x2="466.6" y2="512.3" stroke="#000" stroke-width="1.5" stroke-linecap="butt"/>
<rect x="456" y="513" width="14.2" height="20.7" fill="#000" stroke="none" stroke-width="0"/>
<line x1="482.8" y1="515" x2="482.8" y2="514.4" stroke="#000" stroke-width="1.5" stroke-linecap="butt"/>
<line x1="479.3" y1="514.4" x2="486.3" y2="514.4" stroke="#000" stroke-width="1.5" stroke-linecap="butt"/>
<rect x="475.9" y="515" width="13.8" height="18.7" fill="#000" stroke="none" stroke-width="0"/>
<line x1="502.3" y1="496" x2="502.3" y2="493.8" stroke="#000" stroke-width="1.5" stroke-linecap="butt"/>
<line x1="498.8" y1="493.8" x2="505.8" y2="493.8" stroke="#000" stroke-width="1.5" stroke-linecap="butt"/>
<rect x="495.95" y="496.75" width="12.7" height="36.95" fill="#fff" stroke="#000" stroke-width="1.5"/>
<line x1="434" y1="481.65" x2="434" y2="534.45" stroke="#000" stroke-width="1.5" stroke-linecap="butt"/>
<line x1="431.4" y1="482.4" x2="434" y2="482.4" stroke="#000" stroke-width="1.5" stroke-linecap="butt"/>
<text x="429.6" y="486" font-size="10" text-anchor="end" font-weight="normal" fill="#000" stroke="#000" stroke-width="0.3">20</text>
<line x1="431.4" y1="495.3" x2="434" y2="495.3" stroke="#000" stroke-width="1.5" stroke-linecap="butt"/>
<text x="429.6" y="498.9" font-size="10" text-anchor="end" font-weight="normal" fill="#000" stroke="#000" stroke-width="0.3">15</text>
<line x1="431.4" y1="508.1" x2="434" y2="508.1" stroke="#000" stroke-width="1.5" stroke-linecap="butt"/>
<text x="429.6" y="511.7" font-size="10" text-anchor="end" font-weight="normal" fill="#000" stroke="#000" stroke-width="0.3">10</text>
<line x1="431.4" y1="520.9" x2="434" y2="520.9" stroke="#000" stroke-width="1.5" stroke-linecap="butt"/>
<text x="429.6" y="524.5" font-size="10" text-anchor="end" font-weight="normal" fill="#000" stroke="#000" stroke-width="0.3">5</text>
<line x1="431.4" y1="533.7" x2="434" y2="533.7" stroke="#000" stroke-width="1.5" stroke-linecap="butt"/>
<text x="429.6" y="537.3" font-size="10" text-anchor="end" font-weight="normal" fill="#000" stroke="#000" stroke-width="0.3">0</text>
<line x1="433.25" y1="533.7" x2="511.8" y2="533.7" stroke="#000" stroke-width="1.5" stroke-linecap="butt"/>
<line x1="443.9" y1="533.7" x2="443.9" y2="535.9" stroke="#000" stroke-width="1.5" stroke-linecap="butt"/>
<line x1="463.1" y1="533.7" x2="463.1" y2="535.9" stroke="#000" stroke-width="1.5" stroke-linecap="butt"/>
<line x1="482.9" y1="533.7" x2="482.9" y2="535.9" stroke="#000" stroke-width="1.5" stroke-linecap="butt"/>
<line x1="502.3" y1="533.7" x2="502.3" y2="535.9" stroke="#000" stroke-width="1.5" stroke-linecap="butt"/>
<text x="402.98" y="509.4" font-size="9.4" text-anchor="middle" font-weight="normal" fill="#1a1a1a" transform="rotate(-90 402.98 509.4)" textLength="47.3" lengthAdjust="spacingAndGlyphs" stroke="#1a1a1a" stroke-width="0.18">AnnexinV</text>
<text x="402.8" y="481.8" font-size="6.5" text-anchor="middle" font-weight="normal" fill="#1a1a1a" transform="rotate(-90 402.8 481.8)" stroke="#1a1a1a" stroke-width="0.18">+</text>
<text x="414.8" y="506.8" font-size="10" text-anchor="middle" font-weight="normal" fill="#1a1a1a" transform="rotate(-90 414.8 506.8)" textLength="40.5" lengthAdjust="spacingAndGlyphs" stroke="#1a1a1a" stroke-width="0.18">cells (%)</text>
<line x1="442" y1="491" x2="461" y2="491" stroke="#000" stroke-width="1.5" stroke-linecap="butt"/>
<text x="452.4" y="489" font-size="10" text-anchor="middle" font-weight="normal" fill="#1a1a1a" stroke="#1a1a1a" stroke-width="0.18">n.s.</text>
<line x1="463.7" y1="491" x2="501.3" y2="491" stroke="#000" stroke-width="1.5" stroke-linecap="butt"/>
<text x="479.8" y="492.92" font-size="9.5" text-anchor="middle" font-weight="normal" fill="#000" stroke="#000" stroke-width="0.3">**</text>
<line x1="483.2" y1="484.5" x2="501.8" y2="484.5" stroke="#000" stroke-width="1.5" stroke-linecap="butt"/>
<text x="493" y="486.32" font-size="9.5" text-anchor="middle" font-weight="normal" fill="#000" stroke="#000" stroke-width="0.3">**</text>
<text x="432.6" y="546.8" font-size="10" text-anchor="end" font-weight="normal" fill="#1a1a1a" stroke="#1a1a1a" stroke-width="0.18">eGFP</text>
<text x="432.6" y="560.6" font-size="10" text-anchor="end" font-weight="normal" fill="#1a1a1a" stroke="#1a1a1a" stroke-width="0.18">DOX</text>
<line x1="442.5" y1="544.9" x2="445.5" y2="544.9" stroke="#000" stroke-width="1.2" stroke-linecap="butt"/>
<line x1="442.5" y1="558.7" x2="445.5" y2="558.7" stroke="#000" stroke-width="1.2" stroke-linecap="butt"/>
<line x1="461.6" y1="544.9" x2="464.6" y2="544.9" stroke="#000" stroke-width="1.2" stroke-linecap="butt"/>
<line x1="460.6" y1="558.7" x2="465.6" y2="558.7" stroke="#000" stroke-width="1.2" stroke-linecap="butt"/>
<line x1="463.1" y1="556.2" x2="463.1" y2="561.2" stroke="#000" stroke-width="1.2" stroke-linecap="butt"/>
<line x1="480.4" y1="544.9" x2="485.4" y2="544.9" stroke="#000" stroke-width="1.2" stroke-linecap="butt"/>
<line x1="482.9" y1="542.4" x2="482.9" y2="547.4" stroke="#000" stroke-width="1.2" stroke-linecap="butt"/>
<line x1="481.4" y1="558.7" x2="484.4" y2="558.7" stroke="#000" stroke-width="1.2" stroke-linecap="butt"/>
<line x1="499.9" y1="544.9" x2="504.9" y2="544.9" stroke="#000" stroke-width="1.2" stroke-linecap="butt"/>
<line x1="502.4" y1="542.4" x2="502.4" y2="547.4" stroke="#000" stroke-width="1.2" stroke-linecap="butt"/>
<line x1="499.9" y1="558.7" x2="504.9" y2="558.7" stroke="#000" stroke-width="1.2" stroke-linecap="butt"/>
<line x1="502.4" y1="556.2" x2="502.4" y2="561.2" stroke="#000" stroke-width="1.2" stroke-linecap="butt"/>
</g>
</svg>
</body>
</html>
